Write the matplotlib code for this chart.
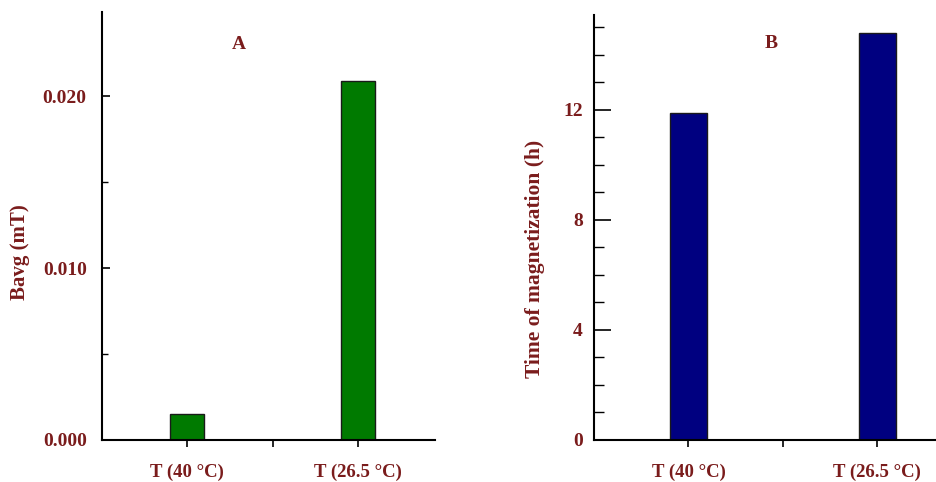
import matplotlib.pyplot as plt
from matplotlib.ticker import MultipleLocator, FormatStrFormatter

# Datos
categorias = ['T (40 °C)', 'T (26.5 °C)']
bavg = [0.0015, 0.0209]
tiempo_magnetizacion = [11.9, 14.8]

color_texto = '#7a1c1c'
plt.rcParams['font.family'] = ['Liberation Serif', 'DejaVu Serif']
plt.rcParams['font.weight'] = 'bold'

W, H = 936, 482
fig = plt.figure(figsize=(W / 100, H / 100), dpi=100)

# Panel A
ax1 = fig.add_axes([102 / W, 1 - 440 / H, (435 - 102) / W, (440 - 12) / H])
ax1.bar([1, 2], bavg, width=0.2, color='#007a00', edgecolor='#1a1a1a', linewidth=1)
ax1.set_xlim(0.5, 2.45)
ax1.set_ylim(0, 0.0249)
ax1.yaxis.set_major_locator(MultipleLocator(0.010))
ax1.yaxis.set_minor_locator(MultipleLocator(0.005))
ax1.yaxis.set_major_formatter(FormatStrFormatter('%.3f'))
ax1.set_ylabel('Bavg (mT)', color=color_texto, fontsize=15, fontweight='bold')
ax1.yaxis.set_label_coords(-0.216, 0.44)
ax1.text(1.3, 0.0230, 'A', color=color_texto, fontsize=14, fontweight='bold', ha='center', va='center')

# Panel B
ax2 = fig.add_axes([594 / W, 1 - 440 / H, (936 - 594) / W, (440 - 15) / H])
ax2.bar([1, 2], tiempo_magnetizacion, width=0.2, color='#000080', edgecolor='#1a1a1a', linewidth=1)
ax2.set_xlim(0.5, 2.31)
ax2.set_ylim(0, 15.45)
ax2.yaxis.set_major_locator(MultipleLocator(4))
ax2.yaxis.set_minor_locator(MultipleLocator(1))
ax2.set_ylabel('Time of magnetization (h)', color=color_texto, fontsize=15.5, fontweight='bold')
ax2.yaxis.set_label_coords(-0.144, 0.426)
ax2.text(1.44, 14.4, 'B', color=color_texto, fontsize=14, fontweight='bold', ha='center', va='center')

for ax, (maj, mnr, pad) in zip([ax1, ax2], [(6, 4, 11), (12, 7, 8)]):
    ax.spines['top'].set_visible(False)
    ax.spines['right'].set_visible(False)
    ax.spines['left'].set_linewidth(1.5)
    ax.spines['bottom'].set_linewidth(1.5)
    ax.set_xticks([1, 2])
    ax.set_xticks([1.5], minor=True)
    ax.set_xticklabels(categorias)
    ax.tick_params(axis='y', which='major', direction='in', length=maj, width=1.2,
                   labelsize=14, labelcolor=color_texto, pad=pad)
    ax.tick_params(axis='y', which='minor', direction='in', length=mnr, width=1)
    ax.tick_params(axis='x', which='both', direction='out', length=5, width=1.2,
                   labelsize=13.5, labelcolor=color_texto, pad=12)
    for lbl in ax.get_xticklabels() + ax.get_yticklabels():
        lbl.set_fontweight('bold')

fig.savefig('out.png', dpi=100)
